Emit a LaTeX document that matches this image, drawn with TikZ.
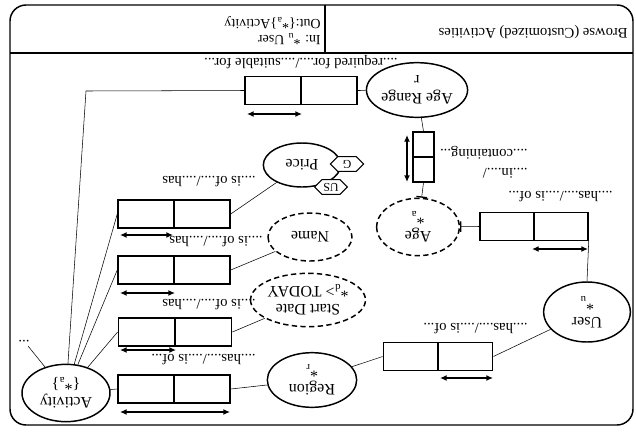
\documentclass[tikz,border=0pt]{standalone}
\usepackage{fontspec}
\setmainfont{Liberation Serif}
\usetikzlibrary{arrows.meta,calc,positioning,shapes.geometric,shapes.symbols}
\tikzset{>=Latex,line width=1pt,
  every node/.style={font=\fontsize{11}{12}\selectfont},
  entity/.style={ellipse,draw,line width=1.1pt,inner sep=0pt,align=center,
    font=\fontsize{12}{13.5}\selectfont},
  optentity/.style={entity,dash pattern=on 4pt off 2.5pt},
  relbox/.style={draw,line width=1.1pt,minimum width=84pt,minimum height=21pt,inner sep=0pt},
  rolelabel/.style={anchor=west,inner sep=0pt},
  dimarrow/.style={{Latex[length=5pt,width=4.5pt]}-{Latex[length=5pt,width=4.5pt]},line width=1.1pt},
  unittag/.style={signal,signal to=east and west,draw,fill=white,line width=.8pt,
    inner sep=1pt,font=\fontsize{9}{9}\selectfont},
  cardtick/.style={-{Bar[width=8pt,line width=1pt]}}}
\begin{document}
\begin{tikzpicture}[x=-.75pt,y=.75pt,rotate=180,transform shape]
\useasboundingbox (0,0) rectangle (636,433);
% frame and header
\draw[line width=1.1pt,rounded corners=12pt] (10,5) rectangle (633,425);
\draw[line width=1pt] (10,53) -- (633,53);
\draw[line width=1pt] (325,5) -- (325,53);
\node[rolelabel] (title) at (628,32) {Browse (Customized) Activities};
\node[rolelabel,align=left,font=\fontsize{10.5}{12}\selectfont] (io) at (321,31)
  {In: *\textsubscript{u} User\\Out:\{*\textsubscript{a}\}Activity};
% entities
\node[entity,minimum width=66pt,minimum height=43pt] (act) at (66,393) {Activity\\\{*\textsubscript{a}\}};
\node[entity,minimum width=67pt,minimum height=41pt] (reg) at (312,380) {Region\\*\textsubscript{r}};
\node[entity,minimum width=65pt,minimum height=45pt] (user) at (587,312) {User\\*\textsubscript{u}};
\node[optentity,minimum width=62pt,minimum height=43pt] (age) at (418,227) {Age\\*\textsubscript{a}};
\node[entity,minimum width=64pt,minimum height=41pt] (agerange) at (417,90) {Age Range\\r};
\node[entity,minimum width=58pt,minimum height=33pt] (price) at (302,165) {Price};
\node[optentity,minimum width=63pt,minimum height=36pt] (name) at (310,237) {Name};
\node[optentity,minimum width=80pt,minimum height=40pt] (start) at (308,300) {Start Date\\*\textsubscript{d}> TODAY};
\node[unittag,minimum width=25pt,minimum height=11pt] (gtag) at (347,164) {G};
\node[unittag,minimum width=24pt,minimum height=11pt] (ustag) at (331,187) {US};
\node[inner sep=3pt] (dots) at (24,341) {...};
% relationship boxes
\node[relbox] (r1) at (174,389) {};
\node[relbox,minimum width=85pt] (r2) at (175,332) {};
\node[relbox] (r3) at (174,270) {};
\node[relbox] (r4) at (174,214) {};
\node[relbox] (r5) at (301,90.5) {};
\node[relbox,minimum width=82pt] (r6) at (438,356.5) {};
\node[relbox,minimum width=81pt] (r7) at (534,226.5) {};
\node[relbox,minimum width=16pt,minimum height=37.5pt] (r8) at (423.5,157) {};
\foreach \b in {r1,r2,r3,r4,r5,r6,r7} \draw[line width=1.1pt] (\b.north) -- (\b.south);
\draw[line width=1.1pt] (r8.west) -- (r8.east);
% connectors
\coordinate (bend) at (86,91);
\draw (act) -- (dots);
\draw (act) -- (r1.east);
\draw (act) -- (r2.east);
\draw (act) -- (r3.east);
\draw (act) -- (r4.east);
\draw (act) -- (bend) -- (r5.east);
\draw (r1.west) -- (reg);
\draw (r2.west) -- (start);
\draw (r3.west) -- (name);
\draw (r4.west) -- (price);
\draw (r5.west) -- (agerange);
\draw (reg) -- (r6.east);
\draw (r6.west) -- (user);
\draw (user.south) -- (r7.north west);
\draw[cardtick] (r7.east) -- (age);
\draw[cardtick] (r8.north) -- (age);
\draw (r8.south) -- (agerange);
% direction arrows
\draw[dimarrow] (120,412) -- (230,412);
\draw[dimarrow] (120,350) -- (176,350);
\draw[dimarrow] (120,293) -- (175,293);
\draw[dimarrow] (120,235) -- (173,235);
\draw[dimarrow] (247,114) -- (302,114);
\draw[dimarrow] (440,378) -- (493,378);
\draw[dimarrow] (532,249) -- (588,249);
\draw[dimarrow] (407,135) -- (407,182);
% role labels
\node[rolelabel] (l1) at (256,360) {....has..../....is of...};
\node[rolelabel] (l2) at (256,305) {....is of..../....has};
\node[rolelabel] (l3) at (263,242) {....is of..../....has};
\node[rolelabel] (l4) at (256,182) {....is of..../....has};
\node[rolelabel] (l5) at (398,62) {....required for..../....suitable for...};
\node[rolelabel] (l6) at (528,329) {....has..../....is of...};
\node[rolelabel] (l7) at (613,197) {....has..../....is of...};
\node[rolelabel,align=left] (l8) at (528,162) {....in..../\\[2pt]....containing...};
\end{tikzpicture}
\end{document}
